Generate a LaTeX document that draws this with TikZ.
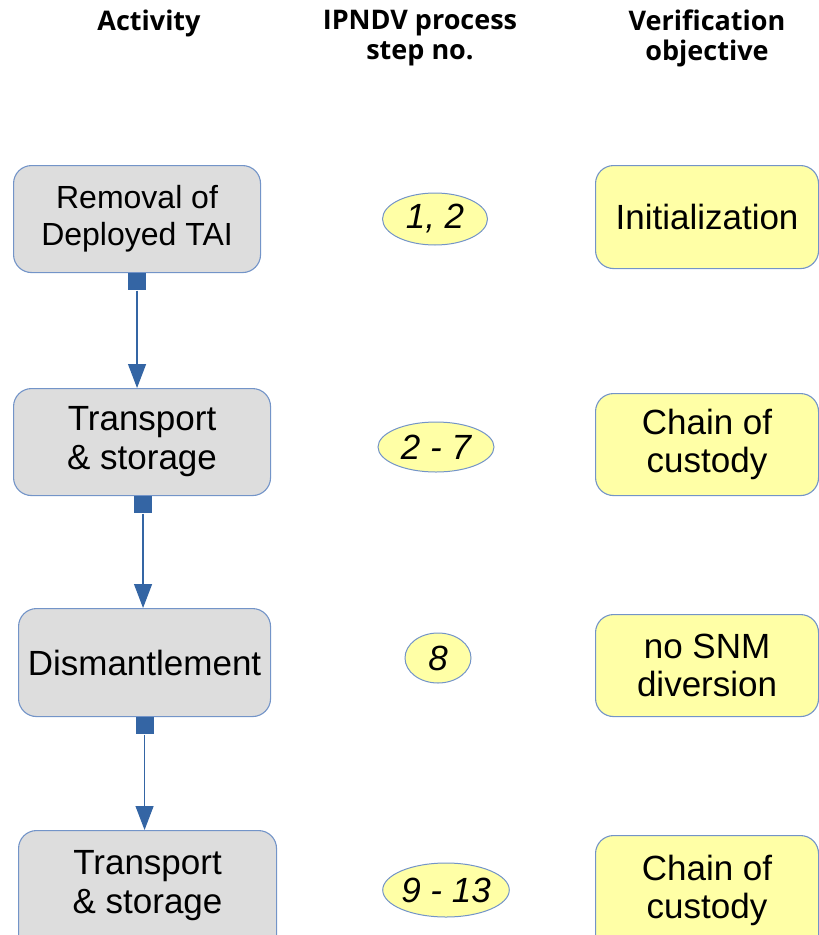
\documentclass[tikz,border=0pt]{standalone}
\usepackage{fontspec}
\setmainfont{Liberation Sans}
\newfontfamily\headfont{Open Sans}
\usetikzlibrary{arrows.meta,shapes.geometric}
\definecolor{bord}{HTML}{7394C8}
\definecolor{grayfill}{HTML}{DDDDDD}
\definecolor{yelfill}{HTML}{FFFFA6}
\definecolor{arr}{HTML}{3465A4}
\begin{document}
\begin{tikzpicture}[x=1pt,y=-1pt,
  actbox/.style={draw=bord,fill=grayfill,rounded corners=18pt,line width=1.1pt,align=center,inner sep=0pt,anchor=north west,font=\fontsize{35}{39}\selectfont},
  objbox/.style={draw=bord,fill=yelfill,rounded corners=18pt,line width=1.1pt,align=center,inner sep=0pt,anchor=north west,font=\fontsize{35}{38}\selectfont},
  stepell/.style={draw=bord,fill=yelfill,ellipse,line width=1pt,inner sep=0pt,font=\itshape\fontsize{35}{36}\selectfont},
  head/.style={align=center,font=\headfont\bfseries\fontsize{27}{30}\selectfont},
  flow/.style={draw=arr,line width=1.2pt,-{Triangle[length=24pt,width=18pt]}},
  sq/.style={fill=arr,draw=none,minimum width=18pt,minimum height=17pt,inner sep=0pt,anchor=north}
]
\useasboundingbox (0,0) rectangle (819,935);
% headers
\node[head] (h1) at (149,23) {Activity};
\node[head] (h2) at (420,38) {IPNDV process\\step no.};
\node[head] (h3) at (707,38) {Verification\\ objective};
% activity boxes
\node[actbox,minimum width=247pt,minimum height=107pt,font=\fontsize{32}{37}\selectfont] (a1) at (13,165) {Removal of\\Deployed TAI};
\node[actbox,minimum width=257pt,minimum height=107pt] (a2) at (13,388) {Transport\\\& storage};
\node[actbox,minimum width=252pt,minimum height=108pt] (a3) at (18,608) {Dismantlement};
\node[actbox,minimum width=258pt,minimum height=140pt,text depth=37pt] (a4) at (18,830) {Transport\\\& storage};
% step ellipses
\node[stepell,minimum width=105pt,minimum height=52pt] (s1) at (435,219) {1, 2};
\node[stepell,minimum width=116pt,minimum height=50pt] (s2) at (436,447) {2 - 7};
\node[stepell,minimum width=66pt,minimum height=50pt] (s3) at (438,658) {8};
\node[stepell,minimum width=119pt,minimum height=54pt] (s4) at (446,890) {9 - 13};
% objective boxes
\node[objbox,minimum width=223pt,minimum height=103pt] (o1) at (595,165) {Initialization};
\node[objbox,minimum width=223pt,minimum height=102pt] (o2) at (595,393) {Chain of\\custody};
\node[objbox,minimum width=223pt,minimum height=102pt] (o3) at (595,614) {no SNM\\diversion};
\node[objbox,minimum width=223pt,minimum height=140pt,text depth=38pt] (o4) at (595,835) {Chain of\\custody};
% connectors
\node[sq] (q1) at (a1.south) {};
\node[sq] (q2) at ([xshift=1pt]a2.south) {};
\node[sq] (q3) at (a3.south) {};
\draw[flow] (q1.south) -- (q1.south |- a2.north);
\draw[flow] (q2.south) -- (q2.south |- a3.north);
\draw[flow] (q3.south) -- (q3.south |- a4.north);
\end{tikzpicture}
\end{document}
